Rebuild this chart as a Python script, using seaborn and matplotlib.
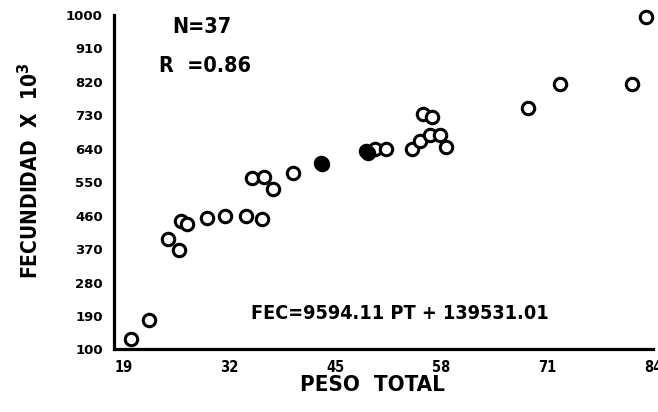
import matplotlib
matplotlib.use("Agg")
import matplotlib.pyplot as plt
import seaborn as sns
import pandas as pd

# Data
peso_abierto = [19.9, 22.1, 24.5, 25.8, 26.1, 26.8, 29.3, 31.5, 34.0, 36.0,
                34.8, 36.2, 37.4, 39.8, 49.9, 51.2, 54.4, 55.4, 56.6, 57.8,
                58.6, 55.8, 56.9, 68.7, 72.6, 81.4, 83.1]
fec_abierto = [129, 178, 398, 367, 445, 438, 454, 460, 460, 452,
               561, 564, 532, 576, 639, 639, 639, 662, 678, 678,
               646, 733, 725, 749, 814, 814, 994]
peso_lleno = [43.4, 43.2, 48.8, 49.0]
fec_lleno = [599, 601, 633, 628]

y_ticks = [100, 190, 280, 370, 460, 550, 640, 730, 820, 910, 1000]
x_ticks = [19, 25.5, 32, 38.5, 45, 51.5, 58, 64.5, 71, 77.5, 84]
x_labels = ["19", "", "32", "", "45", "", "58", "", "71", "", "84"]

sns.set_style("white")
plt.rcParams["font.family"] = ["DejaVu Sans"]
plt.rcParams["font.weight"] = "bold"
for k in ["text.color", "axes.labelcolor", "xtick.color", "ytick.color"]:
    plt.rcParams[k] = "black"

COND = dict(fontweight="bold", fontstretch="condensed", color="black")

fig = plt.figure(figsize=(6.58, 4.12), dpi=100)
ax = fig.add_axes([0.1733, 0.152, 0.8191, 0.8116])

df_o = pd.DataFrame({"peso": peso_abierto, "fec": fec_abierto})
df_f = pd.DataFrame({"peso": peso_lleno, "fec": fec_lleno})
sns.scatterplot(data=df_o, x="peso", y="fec", ax=ax, s=80, marker="o",
                facecolor="white", edgecolor="black", linewidth=2.2,
                zorder=3, clip_on=False)
sns.scatterplot(data=df_f, x="peso", y="fec", ax=ax, s=80, marker="o",
                color="black", edgecolor="black", linewidth=2.2,
                zorder=3, clip_on=False)

ax.set_xlim(17.85, 84)
ax.set_ylim(100, 1000)
ax.set_xticks(x_ticks)
ax.set_xticklabels(x_labels)
ax.set_yticks(y_ticks)
ax.set_yticklabels([str(v) for v in y_ticks])

for s in ["top", "right"]:
    ax.spines[s].set_visible(False)
for s in ["left", "bottom"]:
    ax.spines[s].set_linewidth(2.3)
    ax.spines[s].set_color("black")

ax.tick_params(axis="both", direction="inout", length=11, width=2.2,
               colors="black")
ax.tick_params(axis="y", pad=2.5)
ax.tick_params(axis="x", pad=2)
for lab in ax.get_yticklabels():
    lab.set_fontweight("bold")
    lab.set_fontsize(9.5)
for lab in ax.get_xticklabels():
    lab.set_fontweight("bold")
    lab.set_fontstretch("condensed")
    lab.set_fontsize(10.5)

ax.set_xlabel("PESO  TOTAL", fontsize=16, **COND)
ax.set_ylabel(r"FECUNDIDAD  X  10$^\mathbf{3}$", fontsize=15, **COND)
ax.xaxis.set_label_coords(0.48, -0.078)
ax.yaxis.set_label_coords(-0.134, 0.535)

ax.text(25.0, 952, "N=37", fontsize=15.5, va="baseline", **COND)
ax.text(23.4, 846, "R  =0.86", fontsize=15.5, va="baseline", **COND)
ax.text(34.63, 183, "FEC=9594.11 PT + 139531.01", fontsize=14.2,
        va="baseline", **COND)

fig.savefig("out.png", dpi=100)
